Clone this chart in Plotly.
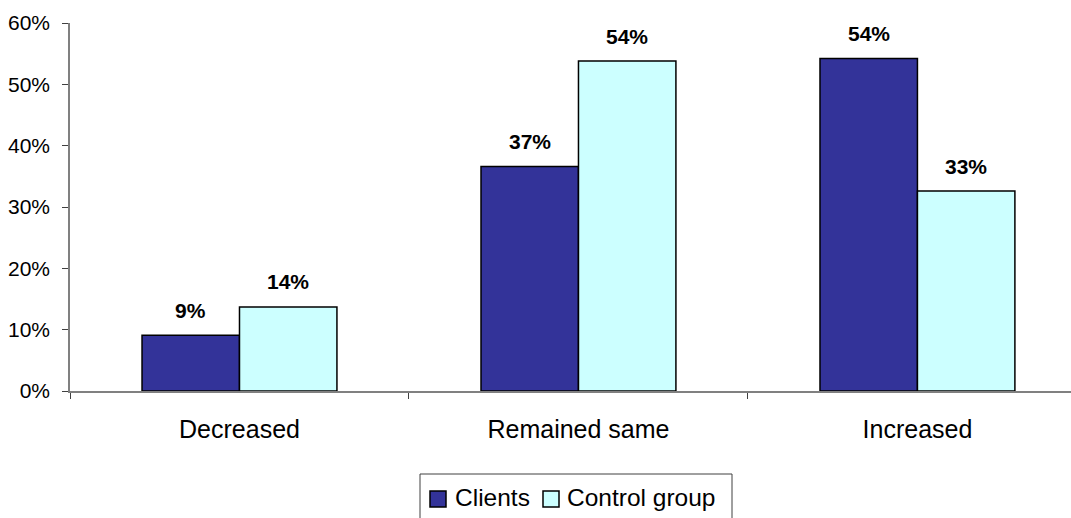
import plotly.graph_objects as go

# Survey outcome shares by group
categories = ["Decreased", "Remained same", "Increased"]
clients = [0.091, 0.366, 0.542]
control_group = [0.137, 0.538, 0.326]
series_names = ["Clients", "Control group"]
y_ticks = [0, 0.1, 0.2, 0.3, 0.4, 0.5, 0.6]

W, H = 1071, 518
L, R, T, B = 70, 0, 23, 127
plot_w = W - L - R
plot_h = H - T - B

CLIENT_COLOR = "#333399"
CONTROL_COLOR = "#CCFFFF"
FONT = "Liberation Sans, Arial, sans-serif"


def px_x(px):
    return (px - L) / plot_w


def px_y(py):
    return (H - B - py) / plot_h


fig = go.Figure()
for name, vals, color in [
    (series_names[0], clients, CLIENT_COLOR),
    (series_names[1], control_group, CONTROL_COLOR),
]:
    fig.add_trace(go.Bar(
        x=categories, y=vals, name=name,
        marker=dict(color=color, line=dict(color="black", width=1.5)),
        showlegend=False,
    ))

# Value labels above each bar
cat_px = plot_w / 2.953
bar_w = cat_px * 0.575 / 2
annotations = []
for vals, sign in [(clients, -1), (control_group, 1)]:
    for cat, v in zip(categories, vals):
        annotations.append(dict(
            x=cat, y=v, xref="x", yref="y",
            text=f"<b>{round(v * 100):d}%</b>", showarrow=False,
            xshift=sign * bar_w / 2, yshift=25, yanchor="middle",
            font=dict(family=FONT, size=21, color="black"),
        ))

# Legend drawn as a boxed key below the axis
shapes = [
    dict(type="rect", xref="paper", yref="paper",
         x0=px_x(420), x1=px_x(732), y0=px_y(540), y1=px_y(474),
         line=dict(color="#404040", width=1), fillcolor="white"),
    dict(type="rect", xref="paper", yref="paper",
         x0=px_x(430), x1=px_x(446), y0=px_y(507), y1=px_y(491),
         line=dict(color="black", width=1.5), fillcolor=CLIENT_COLOR),
    dict(type="rect", xref="paper", yref="paper",
         x0=px_x(543), x1=px_x(559), y0=px_y(507), y1=px_y(491),
         line=dict(color="black", width=1.5), fillcolor=CONTROL_COLOR),
]
for label, x0 in [(series_names[0], 453), (series_names[1], 565)]:
    annotations.append(dict(
        x=px_x(x0), y=px_y(497), xref="paper", yref="paper",
        text=label, showarrow=False, xanchor="left", yanchor="middle",
        font=dict(family=FONT, size=24.5, color="black"),
    ))

fig.update_layout(
    width=W, height=H,
    margin=dict(l=L, r=R, t=T, b=B, pad=0),
    paper_bgcolor="white", plot_bgcolor="white",
    barmode="group", bargap=0.425, bargroupgap=0,
    annotations=annotations, shapes=shapes,
    font=dict(family=FONT, color="black"),
)
fig.update_xaxes(
    range=[-0.5, 2.453], tickson="boundaries",
    ticks="outside", ticklen=6, tickcolor="#404040", tickwidth=1,
    showline=True, linecolor="#808080", linewidth=1.5,
    showgrid=False, zeroline=False,
    tickfont=dict(family=FONT, size=25, color="black"),
    ticklabelstandoff=15,
)
fig.update_yaxes(
    range=[0, 0.6], tickvals=y_ticks, tickformat=".0%",
    ticks="outside", ticklen=6, tickcolor="#404040", tickwidth=1,
    showline=True, linecolor="#808080", linewidth=1.5,
    showgrid=False, zeroline=False,
    tickfont=dict(family=FONT, size=21, color="black"),
    ticklabelstandoff=8,
)

fig.write_html("out.html")
